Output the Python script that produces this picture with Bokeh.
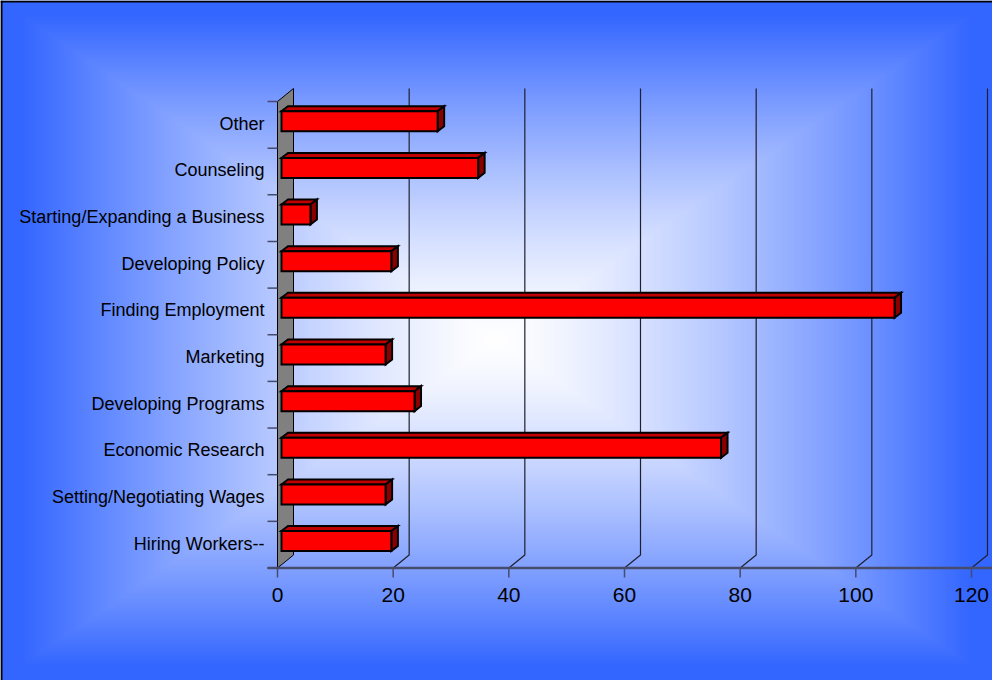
import numpy as np
from bokeh.plotting import figure
from bokeh.models import Range1d, ColumnDataSource
from bokeh.core.properties import value
from bokeh.embed import file_html
from bokeh.resources import INLINE

# ---------------- data ----------------
categories = ["Hiring Workers--", "Setting/Negotiating Wages", "Economic Research",
              "Developing Programs", "Marketing", "Finding Employment",
              "Developing Policy", "Starting/Expanding a Business", "Counseling", "Other"]
counts = [19, 18, 76, 23, 18, 106, 19, 5, 34, 27]
x_ticks = [0, 20, 40, 60, 80, 100, 120]

# ---------------- geometry (page pixels) ----------------
W, H = 992, 680
X0_PX, XMAX_PX = 285.0, 979.0
PX_PER_X = (XMAX_PX - X0_PX) / 120.0
BAND_PX = 46.65
Y_BASE_PX = 575.5
x_start = -(X0_PX - 8) / PX_PER_X
x_end = 120 + (1000 - XMAX_PX) / PX_PER_X
y_top = (Y_BASE_PX - 8) / BAND_PX
y_bot = (Y_BASE_PX - 688) / BAND_PX


def dx(px):
    return px / PX_PER_X


def dy(px):
    return px / BAND_PX


DX, DY = dx(16), dy(13)          # full depth of the 3-D box
n_cat = len(categories)

p = figure(width=W, height=H, output_backend="svg", toolbar_location=None, tools="",
           x_range=Range1d(x_start, x_end), y_range=Range1d(y_bot, y_top),
           x_axis_location=None, y_axis_location=None, min_border=0,
           outline_line_color=None, border_fill_color=None)
p.grid.visible = False

# ---------------- background gradient (rectangular, from centre) ----------------
nx, ny = W // 2, H // 2
gx = 8 + (np.arange(nx) + 0.5) * 2
gy = 688 - (np.arange(ny) + 0.5) * 2
GX, GY = np.meshgrid(gx, gy)
cx, cy = 504.0, 348.0
t = np.maximum(np.abs(GX - cx) / 496.0, np.abs(GY - cy) / 340.0)
t = np.clip(t / 0.96, 0, 1) ** 1.35
img = np.empty((ny, nx), dtype=np.uint32)
view = img.view(dtype=np.uint8).reshape((ny, nx, 4))
view[:, :, 0] = (255 + (0x33 - 255) * t).astype(np.uint8)
view[:, :, 1] = (255 + (0x66 - 255) * t).astype(np.uint8)
view[:, :, 2] = 255
view[:, :, 3] = 255
p.image_rgba(image=[img], x=x_start, y=y_bot, dw=x_end - x_start, dh=y_top - y_bot)

# ---------------- left wall ----------------
p.patch(x=[0, DX, DX, 0], y=[0, DY, n_cat + DY, n_cat],
        fill_color="#808080", line_color="#000000", line_width=1)

# ---------------- back gridlines ----------------
gxs, gys = [], []
for v in x_ticks[1:]:
    gxs.append([v, v + DX, v + DX])
    gys.append([0, DY, n_cat + DY])
p.multi_line(xs=gxs, ys=gys, line_color="#1e2030", line_width=1.2)

# ---------------- axes ----------------
axis_col = "#474c6c"
p.segment(x0=[-dx(10)], y0=[0], x1=[x_end], y1=[0], line_color=axis_col, line_width=2.5)
p.segment(x0=x_ticks, y0=[0] * len(x_ticks), x1=x_ticks, y1=[-dy(9.5)] * len(x_ticks),
          line_color=axis_col, line_width=1.5)
yt = list(range(n_cat + 1))
p.segment(x0=[-dx(10)] * len(yt), y0=yt, x1=[0] * len(yt), y1=yt,
          line_color=axis_col, line_width=1.5)

p.text(x=x_ticks, y=[-dy(27)] * len(x_ticks), text=[str(v) for v in x_ticks],
       text_font=value("Liberation Sans"), text_font_size="21px",
       text_align="center", text_baseline="middle", text_color="#000000")
p.text(x=[-dx(13)] * n_cat, y=[i + 0.5 + dy(1) for i in range(n_cat)], text=categories,
       text_font=value("Liberation Sans"), text_font_size="18px",
       text_align="right", text_baseline="middle", text_color="#000000")

# ---------------- 3-D bars ----------------
fx0, fy, hh = dx(4), dy(3.6), dy(10)
bdx, bdy = dx(6.5), dy(5)
top_xs, top_ys, side_xs, side_ys = [], [], [], []
lefts, rights, bottoms, tops = [], [], [], []
for i, v in enumerate(counts):
    yc = i + 0.5 + fy
    x1 = fx0 + v
    top_xs.append([fx0, x1, x1 + bdx, fx0 + bdx])
    top_ys.append([yc + hh, yc + hh, yc + hh + bdy, yc + hh + bdy])
    side_xs.append([x1, x1 + bdx, x1 + bdx, x1])
    side_ys.append([yc - hh, yc - hh + bdy, yc + hh + bdy, yc + hh])
    lefts.append(fx0)
    rights.append(x1)
    bottoms.append(yc - hh)
    tops.append(yc + hh)

p.patches(xs=top_xs, ys=top_ys, fill_color="#c00000", line_color="#000000",
          line_width=2, line_join="miter")
p.patches(xs=side_xs, ys=side_ys, fill_color="#8a0000", line_color="#000000",
          line_width=2, line_join="miter")
src = ColumnDataSource(dict(left=lefts, right=rights, bottom=bottoms, top=tops,
                            cat=categories, count=counts))
p.quad(left="left", right="right", bottom="bottom", top="top", source=src,
       fill_color="#ff0000", line_color="#000000", line_width=2, line_join="miter")

# ---------------- outer border (left and top) ----------------
p.segment(x0=[x_start + dx(1), x_start], y0=[y_bot, y_top - dy(1)],
          x1=[x_start + dx(1), x_end], y1=[y_top, y_top - dy(1)],
          line_color="#000000", line_width=2)

open("out.html", "w").write(file_html(p, INLINE))
